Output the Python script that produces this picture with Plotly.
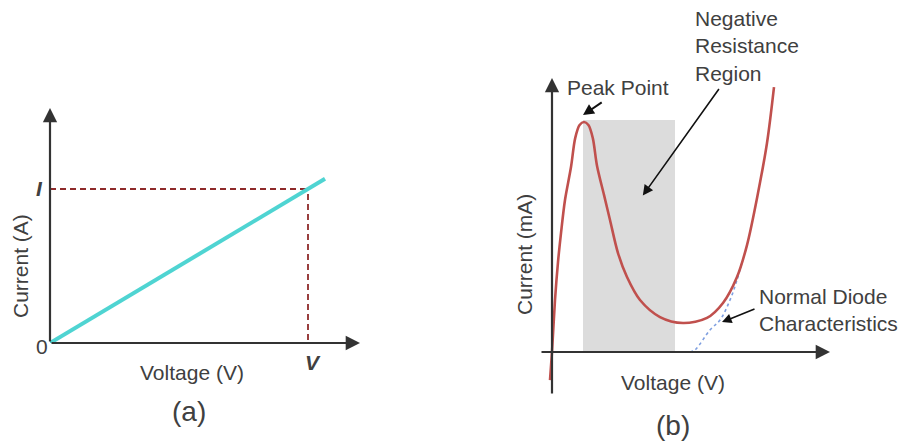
import plotly.graph_objects as go

W, H = 901, 443

# ---------------- data ----------------
# Panel (a): ohmic conductor, linear I-V (normalised units: V=1 and I=1 at the marked point)
a_voltage = [0.0, 1.066]
a_current = [0.0, 1.066]
a_mark_v = 1.0
a_mark_i = 1.0

# Panel (b): tunnel diode I-V (voltage in V, current in mA)
b_voltage = [-0.005, 0.0, 0.0075, 0.015, 0.0225, 0.0325, 0.0475, 0.058, 0.069, 0.080,
             0.091, 0.102, 0.1125, 0.130, 0.145, 0.165, 0.1875, 0.220, 0.270, 0.3275,
             0.3875, 0.4275, 0.4625, 0.4875, 0.515, 0.5375, 0.555]
b_current = [-1.22, 0.0, 2.26, 3.91, 5.17, 6.61, 8.04, 9.30, 9.87, 10.0,
             9.87, 9.30, 8.10, 6.83, 5.74, 4.30, 3.26, 2.26, 1.52, 1.26,
             1.48, 2.13, 3.26, 4.65, 6.91, 9.09, 11.52]
normal_voltage = [0.345, 0.3575, 0.395, 0.420, 0.445, 0.4625, 0.475]
normal_current = [0.0, 0.09, 0.96, 1.39, 2.26, 3.13, 3.91]
neg_region_v = [0.0775, 0.3075]
neg_region_i = [0.0, 10.09]

AX_COL = "#333333"
TXT_COL = "#404040"
FONT = "Arial, Liberation Sans, sans-serif"


def px(x):
    return x / W


def py(y):
    return 1 - y / H


fig = go.Figure()

# ---- panel (a) ----
dash_style = dict(color="#8e2a2a", width=1.8, dash="6px,4px")
fig.add_trace(go.Scatter(x=[0, a_mark_v], y=[a_mark_i, a_mark_i], mode="lines",
                         line=dash_style, xaxis="x", yaxis="y", cliponaxis=False, hoverinfo="skip"))
fig.add_trace(go.Scatter(x=[a_mark_v, a_mark_v], y=[0.02, a_mark_i], mode="lines",
                         line=dash_style, xaxis="x", yaxis="y", cliponaxis=False, hoverinfo="skip"))
fig.add_trace(go.Scatter(x=a_voltage, y=a_current, mode="lines",
                         line=dict(color="#4fd4d2", width=4),
                         xaxis="x", yaxis="y", cliponaxis=False, hoverinfo="skip"))

# ---- panel (b) ----
fig.add_shape(type="rect", xref="x2", yref="y2",
              x0=neg_region_v[0], x1=neg_region_v[1], y0=neg_region_i[0], y1=neg_region_i[1],
              fillcolor="#dcdcdc", line=dict(width=0), layer="below")
fig.add_trace(go.Scatter(x=normal_voltage, y=normal_current, mode="lines",
                         line=dict(color="#7f9fe0", width=1.6, dash="dot", shape="spline"),
                         xaxis="x2", yaxis="y2", cliponaxis=False, hoverinfo="skip"))
fig.add_trace(go.Scatter(x=b_voltage, y=b_current, mode="lines",
                         line=dict(color="#c0504d", width=2.6, shape="spline", smoothing=0.9),
                         xaxis="x2", yaxis="y2", cliponaxis=False, hoverinfo="skip"))

# axis definitions
xa_rng = [0, 310 / 258]
ya_rng = [0, 235 / 154]
xb_rng = [-0.03, 0.695]
yb_rng = [-43 / 23, 274 / 23]

hidden = dict(visible=False, showgrid=False, zeroline=False, fixedrange=True)
fig.update_layout(
    width=W, height=H,
    margin=dict(l=0, r=0, t=0, b=0),
    paper_bgcolor="white", plot_bgcolor="white",
    showlegend=False,
    xaxis=dict(domain=[px(50), px(360)], range=xa_rng, anchor="y", **hidden),
    yaxis=dict(domain=[py(343), py(108)], range=ya_rng, anchor="x", **hidden),
    xaxis2=dict(domain=[px(540), px(830)], range=xb_rng, anchor="y2", **hidden),
    yaxis2=dict(domain=[py(395), py(78)], range=yb_rng, anchor="x2", **hidden),
    font=dict(family=FONT, color=TXT_COL),
)

ann = []


def arrow(x, y, ax, ay, xr, yr, width=2.2, size=1.3, head=2, color=AX_COL):
    ann.append(dict(x=x, y=y, ax=ax, ay=ay, xref=xr, yref=yr, axref=xr, ayref=yr,
                    text="", showarrow=True, arrowhead=head, arrowsize=size,
                    arrowwidth=width, arrowcolor=color, standoff=0, startstandoff=0))


def label(x, y, text, size=21, xanchor="center", yanchor="middle", angle=0, align="center"):
    ann.append(dict(x=px(x), y=py(y), xref="paper", yref="paper", text=text,
                    showarrow=False, xanchor=xanchor, yanchor=yanchor, textangle=angle,
                    align=align, font=dict(size=size, color=TXT_COL, family=FONT)))


# panel (a) axes
arrow(xa_rng[1], 0, 0, 0, "x", "y")
arrow(0, ya_rng[1], 0, 0, "x", "y")
# panel (b) axes
arrow(xb_rng[1], 0, xb_rng[0], 0, "x2", "y2")
arrow(0, yb_rng[1], 0, yb_rng[0], "x2", "y2")

# pointer arrows in panel (b)
arrow(0.0775, 10.3, 0.128, 10.9, "x2", "y2", width=2, size=1.1, head=2, color="#111111")
arrow(0.227, 6.8, 0.42, 11.5, "x2", "y2", width=1.6, size=1.3, head=2, color="#111111")
arrow(0.425, 1.30, 0.51, 1.9, "x2", "y2", width=1.6, size=1.2, head=2, color="#111111")

# panel (a) labels
label(20, 266, "Current (A)", angle=-90)
label(192, 372, "Voltage (V)")
label(42, 346, "0")
label(39, 188, "<i><b>I</b></i>")
label(313, 362, "<i><b>V</b></i>")
label(189, 411, "(a)", size=28)

# panel (b) labels
label(524, 255, "Current (mA)", angle=-90)
label(673, 382, "Voltage (V)")
label(673, 425, "(b)", size=28)
label(565, 88, "Peak Point", xanchor="left")
label(693, 46, "Negative<br>Resistance<br>Region", xanchor="left", align="left")
label(757, 310, "Normal Diode<br>Characteristics", xanchor="left", align="left")

fig.update_layout(annotations=ann)
fig.write_html("out.html")
